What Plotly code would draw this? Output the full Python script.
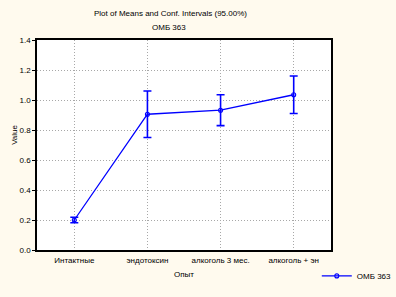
import plotly.graph_objects as go

categories = ["Интактные", "эндотоксин", "алкоголь 3 мес.", "алкоголь + эн"]
means = [0.200, 0.905, 0.932, 1.035]
ci_half = [0.018, 0.155, 0.103, 0.125]
series_name = "ОМБ 363"
title_text = "Plot of Means and Conf. Intervals (95.00%)"
subtitle_text = "ОМБ 363"
x_title = "Опыт"
y_title = "Value"
y_ticks = [0.0, 0.2, 0.4, 0.6, 0.8, 1.0, 1.2, 1.4]

FONT = "Liberation Sans, Arial, sans-serif"
BLUE = "#0000ff"
BG = "#fffaee"

fig = go.Figure()
fig.add_trace(go.Scatter(
    x=list(range(len(categories))), y=means, name=series_name,
    mode="lines+markers",
    line=dict(color=BLUE, width=1.3),
    marker=dict(symbol="circle-open", size=4, color=BLUE, line=dict(width=1.1)),
    error_y=dict(type="data", array=ci_half, visible=True, color=BLUE, thickness=1.6, width=4),
))

fig.update_layout(
    template="none",
    width=396, height=297,
    margin=dict(l=37, r=65, t=40, b=47, autoexpand=False),
    paper_bgcolor=BG, plot_bgcolor="white",
    font=dict(family=FONT, size=8, color="black"),
    showlegend=True,
    legend=dict(xref="container", yref="container", x=0.80, y=0.071,
                xanchor="left", yanchor="middle", bgcolor="rgba(0,0,0,0)",
                borderwidth=0, font=dict(size=8), itemwidth=30),
    xaxis=dict(
        automargin=False,
        range=[-0.51, 3.51], tickmode="array", tickvals=list(range(len(categories))),
        ticktext=categories, showgrid=True, gridcolor="#a8a8a8", griddash="1px,2px", gridwidth=1,
        showline=True, linecolor="black", linewidth=1.5, mirror=True,
        ticks="outside", ticklen=2, tickcolor="rgba(0,0,0,0)",
        zeroline=False,
    ),
    yaxis=dict(
        automargin=False,
        range=[0, 1.4], tickmode="array", tickvals=y_ticks, tickformat=".1f",
        showgrid=True, gridcolor="#a8a8a8", griddash="1px,2px", gridwidth=1,
        showline=True, linecolor="black", linewidth=1.5, mirror=True,
        ticks="outside", ticklen=3, tickcolor="black",
        zeroline=False,
    ),
    yaxis2=dict(
        automargin=False,
        range=[0, 1.4], overlaying="y", side="right", tickmode="array", tickvals=y_ticks,
        showticklabels=False, ticks="inside", ticklen=3, tickcolor="black",
        showgrid=False, zeroline=False, showline=False,
    ),
    annotations=[
        dict(text=title_text, x=0.455, y=1.0, xref="paper", yref="paper",
             yshift=33, showarrow=False, font=dict(size=8)),
        dict(text=subtitle_text, x=0.45, y=1.0, xref="paper", yref="paper",
             yshift=19, showarrow=False, font=dict(size=8)),
        dict(text=x_title, x=0.5, y=0.0, xref="paper", yref="paper",
             yanchor="middle", yshift=-24, showarrow=False, font=dict(size=8)),
        dict(text=y_title, x=-0.075, y=0.548, xref="paper", yref="paper",
             xanchor="center", yanchor="middle", textangle=-90,
             showarrow=False, font=dict(size=8)),
    ],
)

fig.write_html(
    "out.html",
    config={"displayModeBar": False},
    post_script="document.body.style.margin='0';document.body.style.background='#fffaee';",
)
